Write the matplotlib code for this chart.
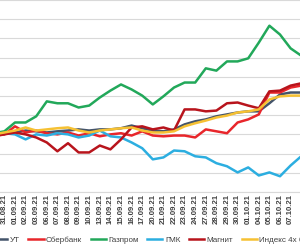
import matplotlib
matplotlib.use('Agg')
import matplotlib.pyplot as plt
import numpy as np

# ------------ Data ---------------
dates = ['30.08.21', '31.08.21', '01.09.21', '02.09.21', '03.09.21', '06.09.21',
         '07.09.21', '08.09.21', '09.09.21', '10.09.21', '13.09.21', '14.09.21',
         '15.09.21', '16.09.21', '17.09.21', '20.09.21', '21.09.21', '22.09.21',
         '23.09.21', '24.09.21', '27.09.21', '28.09.21', '29.09.21', '30.09.21',
         '01.10.21', '04.10.21', '05.10.21', '06.10.21', '07.10.21', '08.10.21']

ut = [0, 0.3, 0.5, 1.0, 0.8, 0.5, 0.8, 1.0, 1.3, 1.0, 1.3, 1.3, 1.6, 2.3, 1.6,
      1.0, 0.8, 1.3, 2.6, 3.4, 3.9, 4.7, 5.2, 5.7, 6.0, 6.0, 8.1, 10.4, 10.9, 10.9]
sber = [-0.5, 0, 2.1, 0.5, 1.0, 0.3, 0, 0.5, -0.3, 0.3, -0.5, 0, 0.3, -0.3, 0.8,
        -0.3, -0.5, -0.3, -0.3, -0.8, 1.3, 0.8, 0.3, 3.1, 3.9, 5.2, 10.9, 10.9, 12.2, 12.7]
gazprom = [0.3, 0.8, 3.1, 3.1, 4.7, 8.6, 8.1, 8.1, 7.0, 7.5, 9.6, 11.4, 13.0, 11.7, 10.1,
           7.8, 9.9, 12.2, 13.5, 13.5, 17.2, 16.6, 19.0, 19.0, 19.8, 23.9, 28.3, 26.0, 22.4, 20.5]
gmk = [0, 0.3, 0, -1.3, 0, -0.3, 0.3, 0, -0.8, -0.3, 1.0, -0.5, -0.8, -2.1, -3.6,
       -6.5, -6.0, -4.2, -4.4, -5.7, -6.0, -7.5, -8.3, -9.9, -8.6, -10.7, -9.9, -10.9, -8.1, -5.7]
magnit = [-0.3, 0, 0.5, 0, -0.8, -2.1, -4.4, -2.3, -4.7, -4.7, -2.9, -3.9, -1.3, 1.8, 2.1,
          1.3, 1.8, 1.0, 6.5, 6.5, 6.0, 6.2, 8.1, 8.3, 7.5, 6.8, 11.2, 11.4, 12.7, 13.3]
index4 = [0, 0.5, 1.0, 1.8, 1.0, 1.3, 1.6, 1.8, 1.0, 0.5, 1.0, 1.3, 1.6, 1.8, 1.0,
          0.5, 0.5, 0.8, 2.1, 2.9, 3.6, 4.4, 4.9, 5.7, 6.0, 6.5, 9.1, 9.9, 10.1, 10.1]

names = ['УТ', 'Сбербанк', 'Газпром', 'ГМК', 'Магнит', 'Индекс 4х бумаг']
colors = ['#44546A', '#E8262B', '#22A85A', '#2CAEE0', '#B8141C', '#F6C133']

# ------------ Plot ---------------
plt.rcParams['font.family'] = ['Liberation Sans', 'DejaVu Sans']

fig = plt.figure(figsize=(3.0, 2.5), dpi=100)
ax = fig.add_axes([0, 58 / 250, 1, 193 / 250])

x = np.arange(len(dates)) - 1
for series, name, c in zip([ut, sber, gazprom, gmk, magnit, index4], names, colors):
    ax.plot(x, series, color=c, lw=1.8, label=name, solid_joinstyle='round')

ax.set_xlim(-4.4 / 10.6, (300 - 4.4) / 10.6)
ax.set_ylim(-15, 35.25)
ax.set_yticks(np.arange(-15, 36, 5))
ax.set_yticklabels([])
ax.tick_params(axis='y', length=0)
ax.grid(axis='y', color='#D9D9D9', lw=0.8)
ax.set_axisbelow(True)

# only the dates that fall inside the visible window get a label
ax.set_xticks(x[1:-1])
ax.set_xticklabels(dates[1:-1], rotation=90, fontsize=5.6, fontweight='bold', color='#404040')
ax.tick_params(axis='x', length=0, pad=1.5)

for s in ['top', 'left', 'right']:
    ax.spines[s].set_visible(False)
ax.spines['bottom'].set_color('#D9D9D9')
ax.spines['bottom'].set_linewidth(0.8)

fig.legend(loc='center left', bbox_to_anchor=(-8 / 300, 10 / 250), ncol=6,
           frameon=False, fontsize=5.8, handlelength=1.9, handletextpad=0.3,
           columnspacing=1.05, borderpad=0, borderaxespad=0, labelcolor='#404040')

fig.savefig('out.png', dpi=100)
